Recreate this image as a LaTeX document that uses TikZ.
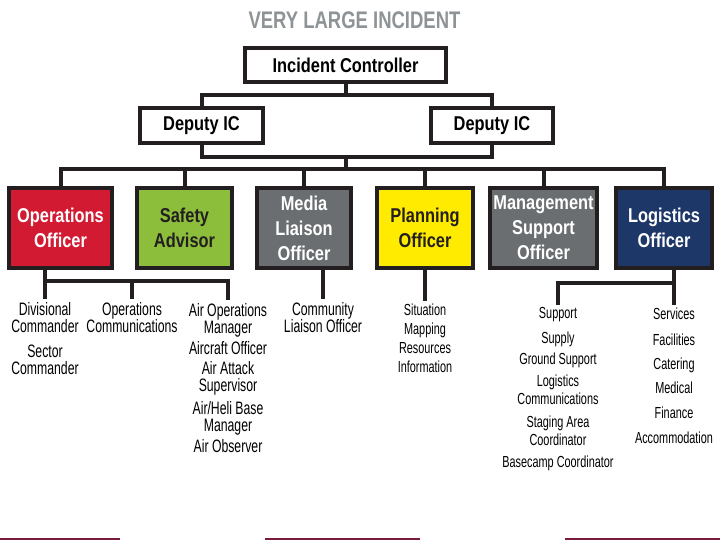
\documentclass[tikz,border=0pt]{standalone}
\usepackage{fontspec}
\newfontfamily\headfont{Liberation Sans}[FakeStretch=0.82]
\newfontfamily\listfont{Liberation Sans}[FakeStretch=0.68]
\newfontfamily\titlefont{Liberation Sans}[FakeStretch=0.77]
\definecolor{boxline}{HTML}{231F20}
\definecolor{titlegray}{HTML}{8E9396}
\definecolor{opsred}{HTML}{D21A32}
\definecolor{safegreen}{HTML}{8CBE3C}
\definecolor{midgray}{HTML}{6A6E70}
\definecolor{planyellow}{HTML}{FFEB00}
\definecolor{logiblue}{HTML}{1E3769}
\definecolor{slidered}{HTML}{7A1B3A}

\begin{document}
\begin{tikzpicture}[x=1pt,y=-1pt,
  box/.style={draw=boxline,line width=4pt,fill=white,inner sep=0pt,align=center,
    font=\headfont\bfseries\fontsize{20}{25}\selectfont},
  officer/.style={box,minimum height=79pt},
  item/.style={inner sep=0pt,outer sep=3pt,align=center,anchor=north,
    font=\listfont\fontsize{18}{17}\selectfont},
  subitem/.style={item,font=\listfont\fontsize{16}{18}\selectfont},
  link/.style={draw=boxline,line width=4pt}]
  \useasboundingbox (0,0) rectangle (720,540);
  \node[anchor=base,text=titlegray,font=\titlefont\bfseries\fontsize{24}{28}\selectfont] (title) at (354.5,29) {VERY LARGE INCIDENT};
  \node[box,minimum width=201pt,minimum height=34pt] (ic) at (345.5,65) {Incident Controller};
  \node[box,minimum width=123pt,minimum height=35pt] (dl) at (201.5,126) {Deputy IC};
  \node[box,minimum width=122pt,minimum height=35pt] (dr) at (492,126) {Deputy IC};
  \coordinate (j1) at (345.5,95);
  \coordinate (j2) at (345.5,157);
  \coordinate (j3) at (345.5,169);
  \draw[link] (ic) -- (j1);
  \draw[link] (dl) |- (j1) -| (dr);
  \draw[link] (dl) |- (j2) -| (dr);
  \draw[link] (j2) -- (j3);
  %
  \node[officer,fill=opsred,text=white,minimum width=103pt] (ops) at (60.5,228) {Operations\\Officer};
  \node[officer,fill=safegreen,text=boxline,minimum width=95pt] (safety) at (184.5,228) {Safety\\Advisor};
  \node[officer,fill=midgray,text=white,minimum width=94pt] (media) at (304,228) {Media\\Liaison\\Officer};
  \node[officer,fill=planyellow,text=boxline,minimum width=96pt] (plan) at (425,228) {Planning\\Officer};
  \node[officer,fill=midgray,text=white,minimum width=107pt] (mgmt) at (543.5,228) {Management\\Support\\Officer};
  \node[officer,fill=logiblue,text=white,minimum width=96pt] (logi) at (664,228) {Logistics\\Officer};
  \draw[link] (ops) |- (j3) -| (logi);
  \draw[link] (safety) -- (safety |- j3);
  \draw[link] (media) -- (media |- j3);
  \draw[link] (plan) -- (plan |- j3);
  \draw[link] (mgmt) -- (mgmt |- j3);
  %
  \coordinate (opsbar) at (0,281);
  \node[item] (divc) at (45,299) {Divisional\\Commander};
  \node[item] (sector) at (45,342) {Sector\\Commander};
  \node[item] (opscomm) at (132,299) {Operations\\Communications};
  \node[item] (airops) at (228,300) {Air Operations\\Manager};
  \node[item] (aircraft) at (228,338) {Aircraft Officer};
  \node[item] (attack) at (228,358) {Air Attack\\Supervisor};
  \node[item] (heli) at (228,398) {Air/Heli Base\\Manager};
  \node[item] (observer) at (228,436) {Air Observer};
  \draw[link] (ops.south -| divc.north) -- (divc.north);
  \draw[link] (divc.north |- opsbar) -| (airops.north);
  \draw[link] (opscomm.north |- opsbar) -- (opscomm.north);
  %
  \node[item] (community) at (323,299) {Community\\Liaison Officer};
  \draw[link] (community.north |- media.south) -- (community.north);
  \node[subitem,font=\listfont\fontsize{16}{19.3}\selectfont] (situation) at (425,300.5) {Situation\\Mapping\\Resources\\Information};
  \draw[link] (plan) -- (situation);
  %
  \coordinate (logbar) at (0,283);
  \node[subitem] (support) at (558,304.5) {Support};
  \node[subitem] (supply) at (558,328.5) {Supply};
  \node[subitem] (ground) at (558,349.5) {Ground Support};
  \node[subitem] (logcomm) at (558,371.5) {Logistics\\Communications};
  \node[subitem] (staging) at (558,412.5) {Staging Area\\Coordinator};
  \node[subitem] (basecamp) at (558,452.5) {Basecamp Coordinator};
  \node[subitem] (services) at (674,304.5) {Services};
  \node[subitem] (facilities) at (674,331) {Facilities};
  \node[subitem] (catering) at (674,355) {Catering};
  \node[subitem] (medical) at (674,379) {Medical};
  \node[subitem] (finance) at (674,403.5) {Finance};
  \node[subitem] (accommodation) at (674,428.5) {Accommodation};
  \draw[link] (services.north |- logi.south) -- (services.north);
  \draw[link] (services.north |- logbar) -| (support.north);
  %
  \draw[slidered,line width=2pt] (0,539) -- (120,539) (265,539) -- (420,539) (565,539) -- (720,539);
\end{tikzpicture}
\end{document}
